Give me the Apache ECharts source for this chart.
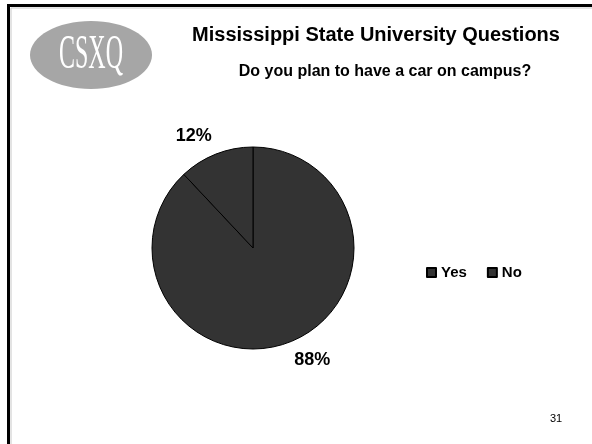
<!DOCTYPE html>
<html>
<head>
<meta charset="utf-8">
<script src="https://cdn.jsdelivr.net/npm/echarts@6/dist/echarts.min.js"></script>
<style>
html,body{margin:0;padding:0;background:#fff;}
#chart{width:592px;height:444px;}
</style>
</head>
<body>
<div id="chart"></div>
<script>
var categories = ['Yes', 'No'];
var values = [88, 12];
var titleText = 'Mississippi State University Questions';
var subtitleText = 'Do you plan to have a car on campus?';
var logoText = 'CSXQ';
var pageNumber = '31';

var chart = echarts.init(document.getElementById('chart'), null, {renderer: 'canvas'});
var FONT = '"Liberation Sans", Arial, sans-serif';

var option = {
  backgroundColor: '#ffffff',
  animation: false,
  graphic: [
    {type: 'polyline', shape: {points: [[11, 444], [11, 8], [592, 8]]}, style: {stroke: '#c8c8c8', lineWidth: 1, fill: null}, z: 1},
    {type: 'polyline', shape: {points: [[8.5, 444], [8.5, 5.5], [592, 5.5]]}, style: {stroke: '#000', lineWidth: 3, fill: null}, z: 2},
    {type: 'ellipse', shape: {cx: 91, cy: 55, rx: 61, ry: 34}, style: {fill: '#a6a6a6'}, z: 2},
    {type: 'text', x: 91, y: 55, scaleX: 0.5, z: 3,
      style: {text: logoText, font: '48px "Liberation Serif", "Times New Roman", serif', fill: '#ffffff', align: 'center', verticalAlign: 'middle'}},
    {type: 'text', x: 376, y: 35, z: 3,
      style: {text: titleText, font: 'bold 20px ' + FONT, fill: '#000', align: 'center', verticalAlign: 'middle'}},
    {type: 'text', x: 385, y: 72, z: 3,
      style: {text: subtitleText, font: 'bold 16px ' + FONT, fill: '#000', align: 'center', verticalAlign: 'middle'}},
    {type: 'text', x: 556, y: 419, z: 3,
      style: {text: pageNumber, font: '11px ' + FONT, fill: '#000', align: 'center', verticalAlign: 'middle'}}
  ],
  legend: {
    data: categories,
    left: 426,
    top: 265,
    padding: 0,
    icon: 'rect',
    itemWidth: 9,
    itemHeight: 9,
    itemGap: 20,
    textStyle: {fontFamily: FONT, fontWeight: 'bold', fontSize: 15, color: '#000'},
    selectedMode: false
  },
  series: [{
    type: 'pie',
    center: [253, 248],
    radius: 101,
    startAngle: 90,
    clockwise: true,
    avoidLabelOverlap: false,
    color: ['#333333', '#333333'],
    itemStyle: {borderColor: '#000', borderWidth: 1},
    label: {
      show: true,
      position: 'outside',
      formatter: function (p) { return p.value + '%'; },
      fontFamily: FONT, fontWeight: 'bold', fontSize: 18, color: '#000',
      distanceToLabelLine: -3
    },
    labelLine: {show: false, length: 19, length2: 0},
    emphasis: {disabled: true},
    data: categories.map(function (c, i) { return {name: c, value: values[i]}; })
  }]
};
chart.setOption(option);
</script>
</body>
</html>
